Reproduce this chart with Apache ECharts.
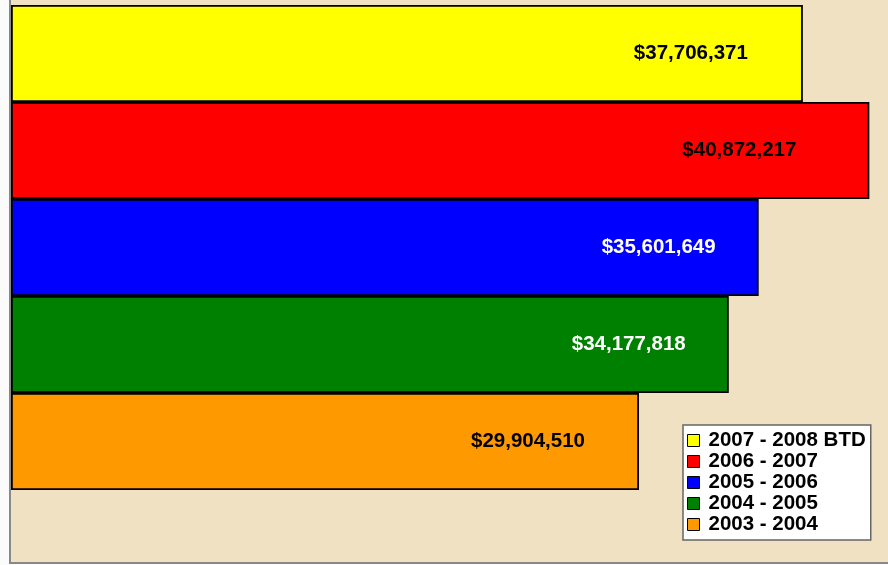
<!DOCTYPE html>
<html>
<head>
<meta charset="utf-8">
<script src="https://cdn.jsdelivr.net/npm/echarts@6/dist/echarts.min.js"></script>
<style>
  html, body { margin: 0; padding: 0; background: #fbfbfb; }
  #chart { width: 888px; height: 565px; }
</style>
</head>
<body>
<div id="chart"></div>
<script>
// fiscal years, top to bottom
let seasons = ['2007 - 2008 BTD', '2006 - 2007', '2005 - 2006', '2004 - 2005', '2003 - 2004'];
let totals = [37706371, 40872217, 35601649, 34177818, 29904510];
let colors = ['#FFFF00', '#FF0000', '#0000FF', '#008000', '#FF9900'];
let labelColors = ['#000', '#000', '#fff', '#fff', '#000'];
let labelDistance = [55, 73, 43, 43, 54];

function money(v) {
  return '$' + v.toString().replace(/\B(?=(\d{3})+(?!\d))/g, ',');
}

let myChart = echarts.init(document.getElementById('chart'));

let series = seasons.map(function (name, i) {
  return {
    name: name,
    type: 'bar',
    xAxisIndex: 1,
    yAxisIndex: 1,
    barGap: '0%',
    barCategoryGap: '0%',
    itemStyle: {
      color: colors[i],
      borderColor: '#000',
      borderWidth: 1.8
    },
    label: {
      show: true,
      position: 'insideRight',
      distance: labelDistance[i],
      color: labelColors[i],
      fontFamily: 'Liberation Sans, Arial',
      fontWeight: 'bold',
      fontSize: 20.5,
      formatter: function (p) { return money(p.value); }
    },
    data: [totals[i]]
  };
});

let frameLine = { show: true, lineStyle: { color: '#888', width: 2 } };

let option = {
  animation: false,
  color: colors,
  legend: {
    orient: 'vertical',
    left: 683,
    top: 425,
    padding: [5, 5, 5, 4],
    itemGap: 0,
    itemWidth: 12,
    itemHeight: 12,
    icon: 'rect',
    backgroundColor: '#fff',
    borderColor: '#666',
    borderWidth: 1.5,
    itemStyle: { borderColor: '#000', borderWidth: 1 },
    textStyle: {
      color: '#000',
      fontFamily: 'Liberation Sans, Arial',
      fontWeight: 'bold',
      fontSize: 20.5,
      lineHeight: 20.7,
      padding: [0, 0, 0, 4]
    },
    data: seasons
  },
  grid: [
    {
      // plot area backdrop, gray edge on left and bottom only
      left: 10, top: 0, right: 0, bottom: 2,
      show: true,
      backgroundColor: '#EFE1C1',
      borderWidth: 0
    },
    {
      left: 11, top: 5, right: 0, bottom: 75
    }
  ],
  xAxis: [
    {
      gridIndex: 0, type: 'value', min: 0, max: 1,
      axisLine: frameLine, axisTick: { show: false },
      axisLabel: { show: false }, splitLine: { show: false }
    },
    {
      gridIndex: 1, type: 'value', min: 0, max: 41760000,
      show: false
    }
  ],
  yAxis: [
    {
      gridIndex: 0, type: 'value', min: 0, max: 1,
      axisLine: frameLine, axisTick: { show: false },
      axisLabel: { show: false }, splitLine: { show: false }
    },
    {
      gridIndex: 1, type: 'category', data: ['Total'],
      inverse: true, show: false
    }
  ],
  series: series
};
myChart.setOption(option);
</script>
</body>
</html>
